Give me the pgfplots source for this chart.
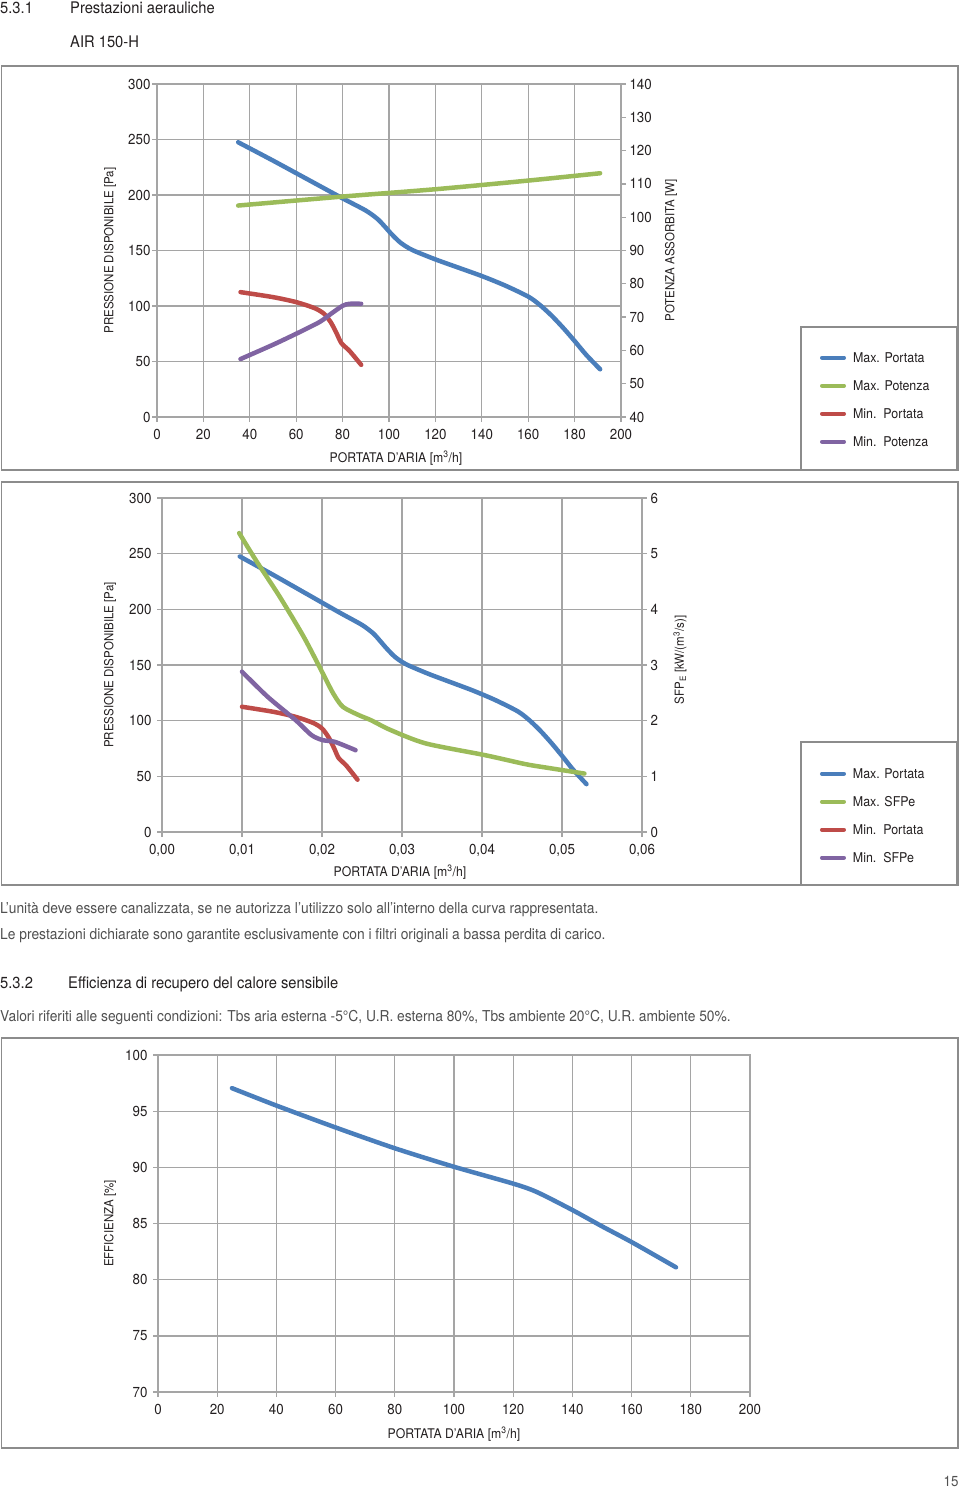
\documentclass[border=0pt]{standalone}
\usepackage{fontspec}
\setmainfont[FakeStretch=0.92]{TeX Gyre Heros}
\usepackage{pgfplots}
\pgfplotsset{compat=1.18}
\definecolor{cblue}{RGB}{74,126,187}
\definecolor{cgreen}{RGB}{155,187,89}
\definecolor{cred}{RGB}{190,75,72}
\definecolor{cpurple}{RGB}{128,100,162}
\definecolor{gridgray}{RGB}{165,165,165}
\definecolor{framegray}{RGB}{140,140,140}
\definecolor{txt}{RGB}{35,31,32}
\definecolor{bodytxt}{RGB}{80,80,80}
\newcommand{\fs}{\fontsize{14.5}{16}\selectfont}
\newcommand{\fb}{\fontsize{15}{17}\selectfont}
\newcommand{\fl}{\fontsize{13.5}{16}\selectfont}
\newcommand{\fx}{\fontsize{13.3}{16}\selectfont}
\newcommand{\fy}{\fontsize{12.5}{15}\selectfont}
\pgfplotsset{
  mybase/.style={
    scale only axis,
    axis line style={draw=gridgray, line width=1.3pt},
    major grid style={draw=gridgray, line width=1.3pt},
    tick style={draw=gridgray, line width=1.3pt},
    tick align=outside,
    major tick length=5pt,
    ticklabel style={font=\fs, text=txt},
    xticklabel style={yshift=-3.5pt},
    xlabel style={font=\fx, text=txt},
    ylabel style={font=\fy, text=txt},
    /pgf/number format/assume math mode=true,
    every axis plot/.append style={line width=4.5pt, line cap=round, line join=round, smooth, tension=0.45},
    clip=false,
    legend cell align=left,
    legend image code/.code={\draw[#1, line width=4pt, line cap=round] (2pt,4.3pt) -- (24pt,4.3pt);},
  },
  mylegend/.style={legend style={draw=none, fill=none, inner sep=0pt, outer sep=0pt,
    font=\fl, text=txt, row sep=15pt, column sep=7pt,
    nodes={inner sep=0pt, text height=10pt, text depth=3pt, anchor=base west}}},
}
\begin{document}
\begin{tikzpicture}
\begin{scope}[x=1pt,y=-1pt]
\path[use as bounding box] (0,0) rectangle (960,1491);
% headings and text
\node[anchor=base west, inner sep=0pt, text=txt, font=\fontsize{16}{18}\selectfont] at (0,13) {5.3.1};
\node[anchor=base west, inner sep=0pt, text=txt, font=\fontsize{16}{18}\selectfont] at (70,13) {Prestazioni aerauliche};
\node[anchor=base west, inner sep=0pt, text=txt, font=\fontsize{16}{18}\selectfont] at (70,47) {AIR 150-H};
\node[anchor=base west, inner sep=0pt, text=bodytxt, font=\fb] at (0,913) {L’unità deve essere canalizzata, se ne autorizza l’utilizzo solo all’interno della curva rappresentata.};
\node[anchor=base west, inner sep=0pt, text=bodytxt, font=\fb] at (0,939) {Le prestazioni dichiarate sono garantite esclusivamente con i filtri originali a bassa perdita di carico.};
\node[anchor=base west, inner sep=0pt, text=txt, font=\fontsize{16}{18}\selectfont] at (0,988) {5.3.2};
\node[anchor=base west, inner sep=0pt, text=txt, font=\fontsize{16}{18}\selectfont] at (68,988) {Efficienza di recupero del calore sensibile};
\node[anchor=base west, inner sep=0pt, text=bodytxt, font=\fb] at (0,1021) {Valori riferiti alle seguenti condizioni: Tbs aria esterna -5°C, U.R. esterna 80\%, Tbs ambiente 20°C, U.R. ambiente 50\%.};
\node[anchor=base, inner sep=0pt, text=bodytxt, font=\fs] at (951,1486) {15};
% frames
\draw[framegray, line width=1.8pt] (1.5,66) rectangle (958,470);
\draw[framegray, line width=1.8pt] (801,327) rectangle (957,470);
\draw[framegray, line width=1.8pt] (1.5,482) rectangle (958,885);
\draw[framegray, line width=1.8pt] (801,742) rectangle (957,885);
\draw[framegray, line width=1.8pt] (1.5,1038) rectangle (958,1448);
\end{scope}

% ---------- Chart 1 ----------
\begin{axis}[mybase, at={(157pt,-417pt)}, anchor=south west, width=464pt, height=333pt,
  xmin=0, xmax=200, ymin=0, ymax=300, xtick distance=20, ytick distance=50,
  yticklabel style={xshift=2pt},
  grid=major, xtick pos=bottom, ytick pos=left,
  xlabel={PORTATA D’ARIA [m\textsuperscript{3}/h]},
  ylabel={PRESSIONE DISPONIBILE [Pa]},
  xlabel style={at={(axis description cs:0.515,-0.123)}, anchor=center},
  ylabel style={at={(axis description cs:-0.1013,0.5)}, anchor=center}]
\addplot[cblue] coordinates {(35,247.5) (50,231) (65,214) (80,197) (90,186) (95,178.5) (98,172) (101,165) (105,157) (110,150.5) (120,142) (130,134.5) (140,127) (150,118.5) (160,108.5) (165,101) (170,91.5) (175,80.5) (180,68.5) (185,56) (191,43)};
\addplot[cred] coordinates {(36,112.5) (50,108) (60,103.5) (68,98) (72,93) (75,85) (77.5,75) (79.5,66.5) (83,59.5) (88,47)};
\end{axis}
\begin{axis}[mybase, mylegend, at={(157pt,-417pt)}, anchor=south west, width=464pt, height=333pt,
  xmin=0, xmax=200, ymin=40, ymax=140, ytick distance=10,
  axis x line=none, axis y line*=right,
  ylabel={POTENZA ASSORBITA [W]},
  ylabel style={at={(axis description cs:1.1078,0.5)}, anchor=center},
  legend style={at={(axis description cs:1.4289,0.1952)}, anchor=north west}]
\addlegendimage{cblue}\addlegendentry{Max. Portata}
\addplot[cgreen] coordinates {(35,103.5) (80,106.2) (120,108.4) (160,111) (191,113.2)};
\addlegendentry{Max. Potenza}
\addlegendimage{cred}\addlegendentry{Min.\ \ Portata}
\addplot[cpurple] coordinates {(36,57.4) (50,61.7) (60,65) (70,68.5) (75,71) (80,73.4) (83,74) (88,74)};
\addlegendentry{Min.\ \ Potenza}
\end{axis}

% ---------- Chart 2 ----------
\begin{axis}[mybase, at={(162pt,-832pt)}, anchor=south west, width=480pt, height=334pt,
  xmin=0, xmax=0.06, ymin=0, ymax=300, xtick={0,0.01,0.02,0.03,0.04,0.05,0.06}, ytick distance=50,
  scaled x ticks=false,
  yticklabel style={xshift=-2pt},
  xticklabel style={/pgf/number format/fixed, /pgf/number format/fixed zerofill, /pgf/number format/precision=2, /pgf/number format/use comma},
  grid=major, xtick pos=bottom, ytick pos=left,
  xlabel={PORTATA D’ARIA [m\textsuperscript{3}/h]},
  ylabel={PRESSIONE DISPONIBILE [Pa]},
  xlabel style={at={(axis description cs:0.4958,-0.1198)}, anchor=center},
  ylabel style={at={(axis description cs:-0.1083,0.5)}, anchor=center}]
\addplot[cblue] coordinates {(0.00972,247.5) (0.01389,231) (0.01806,214) (0.02222,197) (0.0250,186) (0.02639,178.5) (0.02722,172) (0.02806,165) (0.02917,157) (0.03056,150.5) (0.03333,142) (0.03611,134.5) (0.03889,127) (0.04167,118.5) (0.04444,108.5) (0.04583,101) (0.04722,91.5) (0.04861,80.5) (0.05,68.5) (0.05139,56) (0.05306,43)};
\addplot[cred] coordinates {(0.0100,112.5) (0.01389,108) (0.01667,103.5) (0.01889,98) (0.0200,93) (0.02083,85) (0.02153,75) (0.02208,66.5) (0.02306,59.5) (0.02444,47)};
\end{axis}
\begin{axis}[mybase, mylegend, at={(162pt,-832pt)}, anchor=south west, width=480pt, height=334pt,
  xmin=0, xmax=0.06, ymin=0, ymax=6, ytick distance=1,
  axis x line=none, axis y line*=right,
  ylabel={SFP\textsubscript{E} [kW/(m\textsuperscript{3}/s)]},
  ylabel style={at={(axis description cs:1.0792,0.515)}, anchor=center},
  legend style={at={(axis description cs:1.3708,0.1916)}, anchor=north west}]
\addlegendimage{cblue}\addlegendentry{Max. Portata}
\addplot[cgreen] coordinates {(0.00965,5.37) (0.0117,4.89) (0.0147,4.23) (0.0177,3.51) (0.0201,2.85) (0.0214,2.49) (0.0226,2.25) (0.0246,2.10) (0.0261,2.01) (0.0286,1.83) (0.0330,1.59) (0.0404,1.38) (0.0454,1.22) (0.0479,1.16) (0.0528,1.05)};
\addlegendentry{Max. SFPe}
\addlegendimage{cred}\addlegendentry{Min.\ \ Portata}
\addplot[cpurple] coordinates {(0.0100,2.88) (0.0132,2.43) (0.0167,2.01) (0.0187,1.74) (0.0201,1.65) (0.0216,1.62) (0.0242,1.47)};
\addlegendentry{Min.\ \ SFPe}
\end{axis}

% ---------- Chart 3 ----------
\begin{axis}[mybase, at={(158pt,-1392pt)}, anchor=south west, width=592pt, height=337pt,
  xmin=0, xmax=200, ymin=70, ymax=100, xtick distance=20, ytick distance=5,
  yticklabel style={xshift=-2pt},
  grid=major, xtick pos=bottom, ytick pos=left,
  xlabel={PORTATA D’ARIA [m\textsuperscript{3}/h]},
  ylabel={EFFICIENZA [\%]},
  xlabel style={at={(axis description cs:0.5,-0.1246)}, anchor=center},
  ylabel style={at={(axis description cs:-0.0811,0.5)}, anchor=center}]
\addplot[cblue] coordinates {(25,97.05) (40,95.5) (60,93.55) (80,91.7) (100,90.05) (120,88.55) (128,87.8) (140,86.2) (150,84.75) (160,83.35) (175,81.1)};
\end{axis}
\end{tikzpicture}
\end{document}
